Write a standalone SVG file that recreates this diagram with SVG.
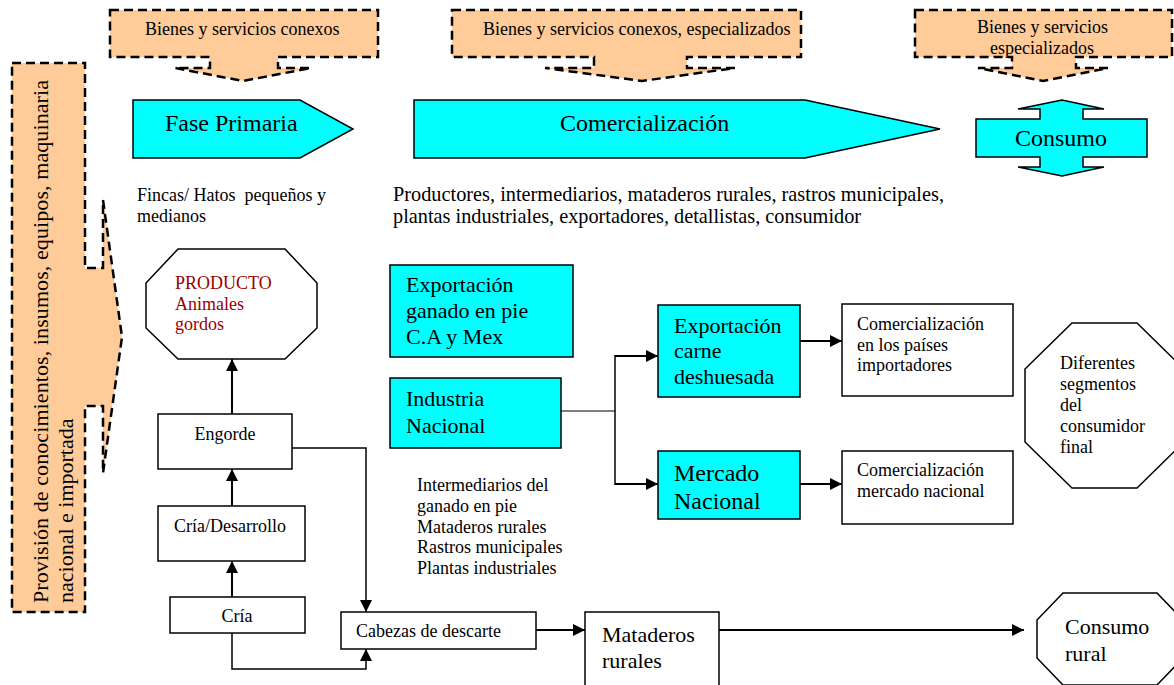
<svg xmlns="http://www.w3.org/2000/svg" width="1174" height="685" viewBox="0 0 1174 685">
<style>
text{font-family:"Liberation Serif","Times New Roman",serif;fill:#000}
.s18{font-size:18px}
.s20{font-size:20.3px}
.s22{font-size:22px}
.s24{font-size:24px}
.callout{fill:#FFCC99;stroke:#000;stroke-width:2.5;stroke-dasharray:9,5}
.cyan{fill:#00FFFF;stroke:#000;stroke-width:1.5}
.box{fill:#fff;stroke:#000;stroke-width:1.5}
.red{fill:#990000}
.ln{fill:none;stroke:#000}
</style>
<defs>
<marker id="ah" viewBox="0 0 12 12" refX="12" refY="6" markerWidth="12" markerHeight="12" markerUnits="userSpaceOnUse" orient="auto">
<path d="M0,0 L12,6 L0,12 z" fill="#000"/>
</marker>
</defs>
<rect width="1174" height="685" fill="#fff"/>

<g id="callout-conexos">
<polygon class="callout" points="110,10 378,10 378,57 278,57 278,68 311,68 243,81 175,68 210,68 210,57 110,57"/>
<text class="s18" x="145" y="35">Bienes y servicios conexos</text>
</g>
<g id="callout-conexos-especializados">
<polygon class="callout" points="452,10 801,10 801,57 687,57 687,68 735,68 642,81 545,68 594,68 594,57 452,57"/>
<text class="s18" x="483" y="35">Bienes y servicios conexos, especializados</text>
</g>
<g id="callout-especializados">
<polygon class="callout" points="915,10 1172,10 1172,57 1076,57 1076,68 1108,68 1043,81 978,68 1012,68 1012,57 915,57"/>
<text class="s18" x="977" y="33">Bienes y servicios</text>
<text class="s18" x="990" y="54">especializados</text>
</g>
<g id="callout-provision">
<polygon class="callout" points="12,63 85,63 85,268 103,268 103,200 122,337 103,473 103,406 85,406 85,612 12,612"/>
<text class="s22" transform="translate(48,603) rotate(-90)" textLength="523" lengthAdjust="spacing">Provisión de conocimientos, insumos, equipos, maquinaria</text>
<text class="s22" transform="translate(73,603) rotate(-90)">nacional e importada</text>
</g>

<g id="fase-primaria">
<polygon class="cyan" points="133,100 300,100 353,129 300,158 133,158"/>
<text class="s24" x="165" y="131">Fase Primaria</text>
</g>
<g id="comercializacion">
<polygon class="cyan" points="414,100 805,100 940,129 805,158 414,158"/>
<text class="s24" x="560" y="131">Comercialización</text>
</g>
<g id="consumo">
<polygon class="cyan" points="976,119 1040,119 1040,109 1018,109 1062,100 1104,109 1083,109 1083,119 1147,119 1147,157 1083,157 1083,167 1104,167 1062,176 1018,167 1040,167 1040,157 976,157"/>
<text class="s24" x="1015" y="146">Consumo</text>
</g>

<g id="fincas-label">
<text class="s18" x="137" y="201" xml:space="preserve">Fincas/ Hatos  pequeños y</text>
<text class="s18" x="137" y="222">medianos</text>
</g>
<g id="actores-label">
<text class="s20" x="393" y="201" textLength="551" lengthAdjust="spacing">Productores, intermediarios, mataderos rurales, rastros municipales,</text>
<text class="s20" x="393" y="223">plantas industriales, exportadores, detallistas, consumidor</text>
</g>

<g id="producto">
<polygon class="box" points="178,249 285,249 317,283 317,328 285,359 178,359 146,328 146,283"/>
<text class="s18 red" x="175" y="289">PRODUCTO</text>
<text class="s18 red" x="175" y="310">Animales</text>
<text class="s18 red" x="175" y="330">gordos</text>
</g>
<g id="engorde">
<rect class="box" x="158" y="414" width="134" height="55"/>
<text class="s18" x="225" y="440" text-anchor="middle">Engorde</text>
</g>
<g id="cria-desarrollo">
<rect class="box" x="158" y="506" width="147" height="55"/>
<text class="s18" x="230" y="532" text-anchor="middle">Cría/Desarrollo</text>
</g>
<g id="cria">
<rect class="box" x="170" y="597" width="135" height="36"/>
<text class="s18" x="237" y="622" text-anchor="middle">Cría</text>
</g>
<g id="cabezas">
<rect class="box" x="341" y="612" width="195" height="37"/>
<text class="s18" x="356" y="637">Cabezas de descarte</text>
</g>
<g id="mataderos">
<rect class="box" x="585" y="612" width="134" height="80"/>
<text class="s22" x="602" y="642">Mataderos</text>
<text class="s22" x="602" y="668">rurales</text>
</g>
<g id="consumo-rural">
<polygon class="box" points="1063,593 1157,593 1183,620 1183,658 1157,685 1063,685 1037,658 1037,620"/>
<text class="s22" x="1065" y="634">Consumo</text>
<text class="s22" x="1065" y="661">rural</text>
</g>

<g id="exportacion-ganado">
<rect class="cyan" x="390" y="265" width="183" height="92"/>
<text class="s22" x="406" y="292">Exportación</text>
<text class="s22" x="406" y="318">ganado en pie</text>
<text class="s22" x="406" y="344">C.A y Mex</text>
</g>
<g id="industria-nacional">
<rect class="cyan" x="390" y="378" width="171" height="70"/>
<text class="s22" x="406" y="406">Industria</text>
<text class="s22" x="406" y="433">Nacional</text>
</g>
<g id="intermediarios-label">
<text class="s18" x="417" y="491">Intermediarios del</text>
<text class="s18" x="417" y="512">ganado en pie</text>
<text class="s18" x="417" y="533">Mataderos rurales</text>
<text class="s18" x="417" y="553">Rastros municipales</text>
<text class="s18" x="417" y="574">Plantas industriales</text>
</g>
<g id="exportacion-carne">
<rect class="cyan" x="658" y="305" width="142" height="92"/>
<text class="s22" x="674" y="333">Exportación</text>
<text class="s22" x="674" y="358">carne</text>
<text class="s22" x="674" y="384">deshuesada</text>
</g>
<g id="mercado-nacional">
<rect class="cyan" x="658" y="451" width="142" height="68"/>
<text class="s24" x="674" y="481">Mercado</text>
<text class="s24" x="674" y="509">Nacional</text>
</g>
<g id="com-importadores">
<rect class="box" x="842" y="304" width="171" height="92"/>
<text class="s18" x="857" y="330">Comercialización</text>
<text class="s18" x="857" y="351">en los países</text>
<text class="s18" x="857" y="371">importadores</text>
</g>
<g id="com-nacional">
<rect class="box" x="842" y="451" width="171" height="73"/>
<text class="s18" x="857" y="476">Comercialización</text>
<text class="s18" x="857" y="497">mercado nacional</text>
</g>
<g id="consumidor-final">
<polygon class="box" points="1072,323 1137,323 1184,369 1184,442 1137,488 1072,488 1025,442 1025,369"/>
<text class="s18" x="1060" y="369">Diferentes</text>
<text class="s18" x="1060" y="390">segmentos</text>
<text class="s18" x="1060" y="411">del</text>
<text class="s18" x="1060" y="432">consumidor</text>
<text class="s18" x="1060" y="453">final</text>
</g>

<g id="connectors">
<line class="ln" stroke-width="2" x1="232" y1="414" x2="232" y2="359" marker-end="url(#ah)"/>
<line class="ln" stroke-width="2" x1="232" y1="506" x2="232" y2="469" marker-end="url(#ah)"/>
<line class="ln" stroke-width="2" x1="232" y1="597" x2="232" y2="561" marker-end="url(#ah)"/>
<polyline class="ln" stroke-width="1.5" points="292,448 366,448 366,612" marker-end="url(#ah)"/>
<polyline class="ln" stroke-width="1.5" points="232,633 232,669 366,669 366,649" marker-end="url(#ah)"/>
<line class="ln" stroke-width="2" x1="536" y1="630" x2="585" y2="630" marker-end="url(#ah)"/>
<line class="ln" stroke-width="2" x1="719" y1="630" x2="1024" y2="630" marker-end="url(#ah)"/>
<line class="ln" stroke-width="1" x1="561" y1="411" x2="615" y2="411"/>
<line class="ln" stroke-width="1.5" x1="615" y1="355" x2="615" y2="485"/>
<line class="ln" stroke-width="2" x1="615" y1="356" x2="658" y2="356" marker-end="url(#ah)"/>
<line class="ln" stroke-width="2" x1="615" y1="484" x2="658" y2="484" marker-end="url(#ah)"/>
<line class="ln" stroke-width="2" x1="800" y1="341" x2="842" y2="341" marker-end="url(#ah)"/>
<line class="ln" stroke-width="2" x1="800" y1="484" x2="842" y2="484" marker-end="url(#ah)"/>
</g>
</svg>
